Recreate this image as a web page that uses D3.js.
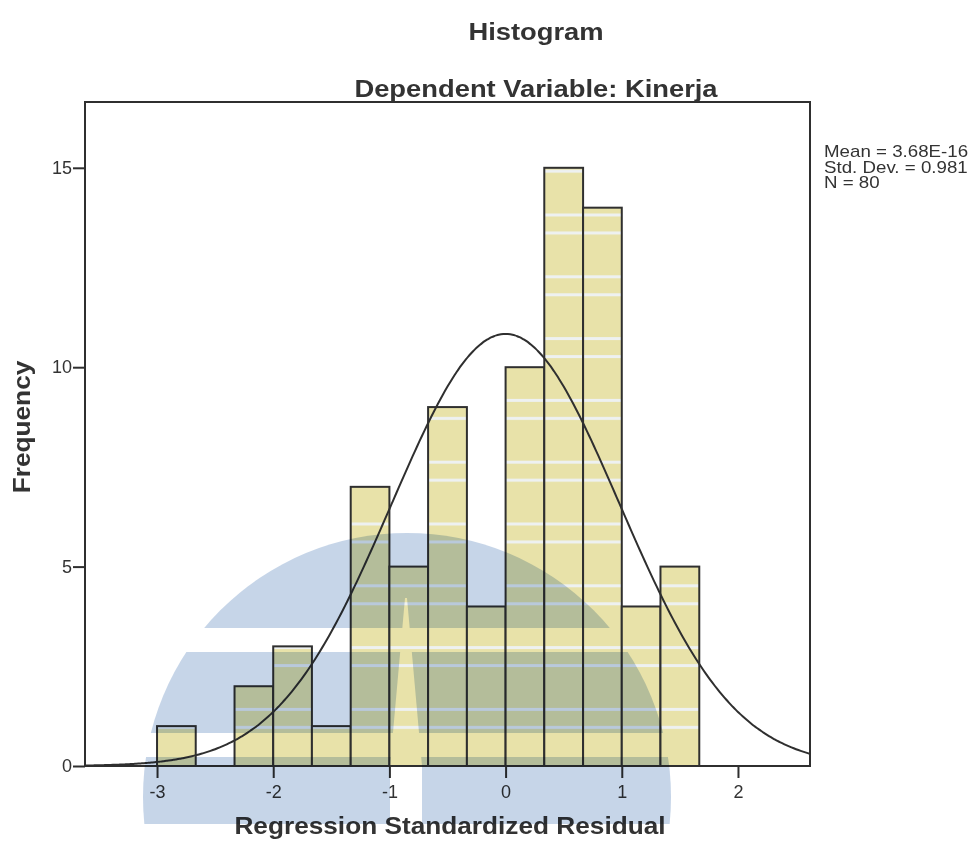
<!DOCTYPE html>
<html>
<head>
<meta charset="utf-8">
<script src="https://cdn.jsdelivr.net/npm/d3@7"></script>
<style>
  body { margin: 0; background: #fff; }
  svg { display: block; font-family: "Liberation Sans", Arial, sans-serif; }
</style>
</head>
<body>
<script>
// histogram bins (regression standardized residual), width 1/3
var binLower = [-3.000, -2.667, -2.333, -2.000, -1.667, -1.333, -1.000, -0.667, -0.333, 0.000, 0.333, 0.667, 1.000, 1.333];
var binUpper = [-2.667, -2.333, -2.000, -1.667, -1.333, -1.000, -0.667, -0.333, 0.000, 0.333, 0.667, 1.000, 1.333, 1.667];
var frequency = [1, 0, 2, 3, 1, 7, 5, 9, 4, 10, 15, 14, 4, 5];

var xTicks = [-3, -2, -1, 0, 1, 2];
var yTicks = [0, 5, 10, 15];

var residMean = 3.68E-16;
var residSd = 0.981;
var residN = 80;
var statLines = ["Mean = 3.68E-16", "Std. Dev. = 0.981", "N = 80"];

var titleText = "Histogram";
var subtitleText = "Dependent Variable: Kinerja";
var xLabel = "Regression Standardized Residual";
var yLabel = "Frequency";

var W = 973, H = 846;
var svg = d3.select("body").append("svg").attr("width", W).attr("height", H),
    margin = {top: 102, right: 163, bottom: 80, left: 85},
    width = W - margin.left - margin.right,
    height = H - margin.top - margin.bottom,
    g = svg.append("g").attr("transform", "translate(" + margin.left + "," + margin.top + ")");

var x = d3.scaleLinear().domain([-3.62, 2.62]).range([0, width]);
var y = d3.scaleLinear().domain([0, 16.65]).range([height, 0]);

var ink = "#2f2f2f";
var stretch = 1.14; // scanned glyphs are wider than Arial

var defs = svg.append("defs");

// bar fill with the faint scan stripes
var pat = defs.append("pattern")
    .attr("id", "scan")
    .attr("patternUnits", "userSpaceOnUse")
    .attr("x", 0).attr("y", 111.5)
    .attr("width", W).attr("height", 61.8);
pat.append("rect").attr("width", W).attr("height", 61.8).attr("fill", "#e8e2a9");
pat.append("rect").attr("y", 0).attr("width", W).attr("height", 3).attr("fill", "#eef1f1");
pat.append("rect").attr("y", 18).attr("width", W).attr("height", 3).attr("fill", "#eef1f1");

var bins = binLower.map(function(lo, i) {
  return {lo: lo, hi: binUpper[i], count: frequency[i]};
});

g.selectAll("rect.bar")
  .data(bins.filter(function(d) { return d.count > 0; }))
  .enter().append("rect")
    .attr("class", "bar")
    .attr("x", function(d) { return x(d.lo); })
    .attr("y", function(d) { return y(d.count); })
    .attr("width", function(d) { return x(d.hi) - x(d.lo); })
    .attr("height", function(d) { return y(0) - y(d.count); })
    .attr("fill", "url(#scan)")
    .attr("stroke", ink)
    .attr("stroke-width", 2);

// normal curve from the reported mean / sd / N
var binWidth = binUpper[0] - binLower[0];
var normal = function(v) {
  var z = (v - residMean) / residSd;
  return residN * binWidth / (residSd * Math.sqrt(2 * Math.PI)) * Math.exp(-0.5 * z * z);
};
var curveX = d3.range(x.domain()[0], x.domain()[1] + 0.001, 0.02);

var line = d3.line()
    .x(function(d) { return x(d); })
    .y(function(d) { return y(normal(d)); })
    .curve(d3.curveBasis);

g.append("path")
  .datum(curveX)
  .attr("fill", "none")
  .attr("stroke", ink)
  .attr("stroke-width", 2)
  .attr("d", line);

// frame
g.append("rect")
  .attr("width", width).attr("height", height)
  .attr("fill", "none")
  .attr("stroke", ink)
  .attr("stroke-width", 2);

var xAxis = g.append("g")
  .attr("transform", "translate(0," + height + ")")
  .call(d3.axisBottom(x).tickValues(xTicks).tickSize(12).tickPadding(7).tickFormat(d3.format("d")));
var yAxis = g.append("g")
  .call(d3.axisLeft(y).tickValues(yTicks).tickSize(12).tickPadding(1));

[xAxis, yAxis].forEach(function(a) {
  a.select(".domain").remove();
  a.selectAll("line").attr("stroke", ink).attr("stroke-width", 2);
  a.selectAll("text")
    .attr("fill", "#333")
    .style("font-size", "18px")
    .style("font-family", "'Liberation Sans', Arial, sans-serif");
});
xAxis.selectAll("text").text(function(d) { return d < 0 ? "-" + Math.abs(d) : d; });

// text helper: glyphs widened along the reading direction
var label = function(str, tx, ty, opts) {
  svg.append("text")
    .attr("transform", "translate(" + tx + "," + ty + ") rotate(" + (opts.rot || 0) + ") scale(" + (opts.k || stretch) + ",1)")
    .attr("text-anchor", opts.anchor || "middle")
    .attr("font-weight", opts.weight || "bold")
    .attr("font-size", opts.size)
    .attr("fill", "#333")
    .text(str);
};

label(titleText, 536, 40, {size: 24});
label(subtitleText, 536, 97, {size: 24});
label(xLabel, 450, 834, {size: 23});
label(yLabel, 30, 427, {size: 23, rot: -90});

statLines.forEach(function(s, i) {
  label(s, 824, 157 + i * 15.5, {size: 16, weight: "normal", anchor: "start", k: 1.17});
});

// faded logo watermark from the scanned page
var mask = defs.append("mask").attr("id", "wm");
mask.append("rect").attr("width", W).attr("height", H).attr("fill", "#000");
mask.append("circle").attr("cx", 407).attr("cy", 797).attr("r", 264).attr("fill", "#fff");
mask.append("rect").attr("x", 0).attr("y", 628).attr("width", W).attr("height", 24).attr("fill", "#000");
mask.append("rect").attr("x", 0).attr("y", 733).attr("width", W).attr("height", 24).attr("fill", "#000");
mask.append("rect").attr("x", 0).attr("y", 824).attr("width", W).attr("height", 30).attr("fill", "#000");
mask.append("polygon")
  .attr("points", "405,598 407,598 422,766 422,846 390,846 390,766")
  .attr("fill", "#000");

svg.append("rect")
  .attr("width", W).attr("height", H)
  .attr("fill", "#c6d5e8")
  .attr("mask", "url(#wm)")
  .style("mix-blend-mode", "multiply");
</script>
</body>
</html>
